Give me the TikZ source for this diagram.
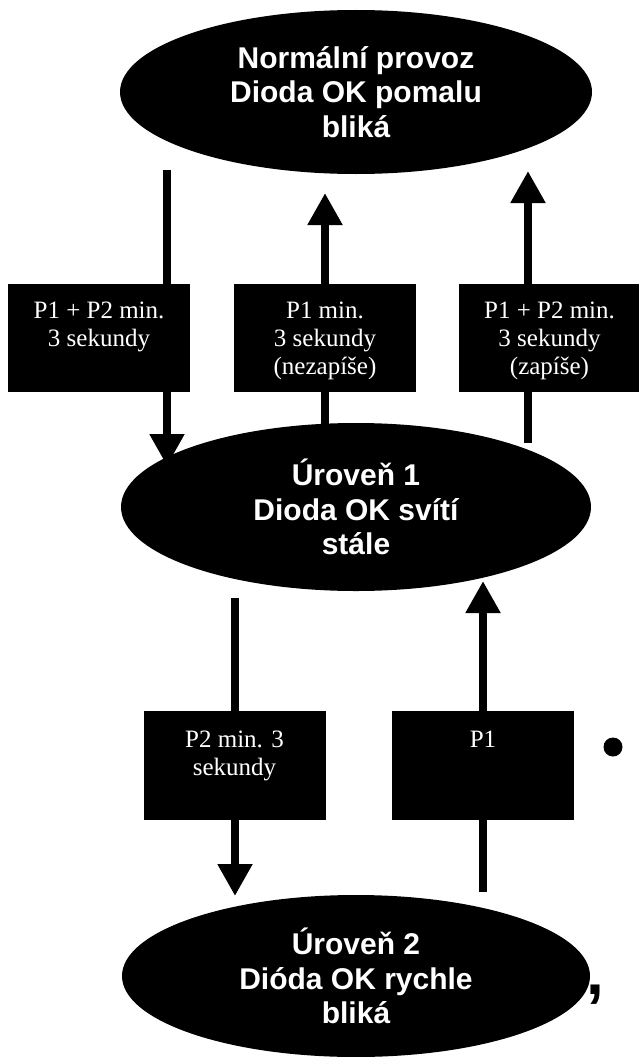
\documentclass[tikz,border=0pt]{standalone}
\usepackage{fontspec}
\setmainfont{Liberation Serif}
\newfontfamily\arialfont{Liberation Sans}
\usetikzlibrary{arrows.meta,shapes.geometric,positioning}

\begin{document}
\begin{tikzpicture}[x=1pt,y=-1pt,
  state/.style={ellipse, fill=black, inner sep=0pt, text=white, align=center,
    font=\arialfont\bfseries\fontsize{30}{34.5}\selectfont},
  keybox/.style={rectangle, fill=black, inner sep=0pt, minimum width=182pt, minimum height=108pt},
  keytext/.style={text=white, align=center, inner sep=0pt, font=\fontsize{25}{28}\selectfont},
  flow/.style={line width=8pt, -{Triangle[width=33pt,length=32pt]}}]
\useasboundingbox (0,0) rectangle (639,1057);
%
\node[state, minimum width=472pt, minimum height=164pt] (normal) at (356,92) {Normální provoz\\Dioda OK pomalu\\bliká};
\node[state, minimum width=470pt, minimum height=168pt] (level1) at (356,507) {Úroveň 1\\Dioda OK svítí\\stále};
\node[state, minimum width=468pt, minimum height=162pt] (level2) at (356,976) {Úroveň 2\\Dióda OK rychle\\bliká};
%
\coordinate (a1) at (167,170);  \coordinate (a1e) at (167,466);
\coordinate (b1) at (325,424);  \coordinate (b1e) at (325,193);
\coordinate (c1) at (528,443);  \coordinate (c1e) at (528,171);
\coordinate (d1) at (235,598);  \coordinate (d1e) at (235,896);
\coordinate (e1) at (483,892);  \coordinate (e1e) at (483,581);
\draw[flow] (a1) -- (a1e);
\draw[flow] (b1) -- (b1e);
\draw[flow] (c1) -- (c1e);
\draw[flow] (d1) -- (d1e);
\draw[flow] (e1) -- (e1e);
%
\node[keybox] (k1) at (99,338) {};
\node[keybox] (k2) at (325,338) {};
\node[keybox] (k3) at (549.5,338) {};
\node[keybox, minimum height=109pt] (k4) at (234.5,765.5) {};
\node[keybox, minimum height=109pt] (k5) at (483,765.5) {};
\node[keytext, below=18pt of k1.north] (k1txt) {P1 + P2 min.\\3 sekundy};
\node[keytext, below=18pt of k2.north] (k2txt) {P1 min.\\3 sekundy\\(nezapíše)};
\node[keytext, below=18pt of k3.north] (k3txt) {P1 + P2 min.\\3 sekundy\\(zapíše)};
\node[keytext, below=20pt of k4.north] (k4txt) {P2 min. 3\\sekundy};
\node[keytext, below=20pt of k5.north] (k5txt) {P1};
%
\node[circle, fill=black, minimum size=19pt, inner sep=0pt] (dot) at (613,747) {};
\node[anchor=base, inner sep=0pt, font=\arialfont\bfseries\fontsize{64}{64}\selectfont] (comma) at (595,994) {,};
\end{tikzpicture}
\end{document}
